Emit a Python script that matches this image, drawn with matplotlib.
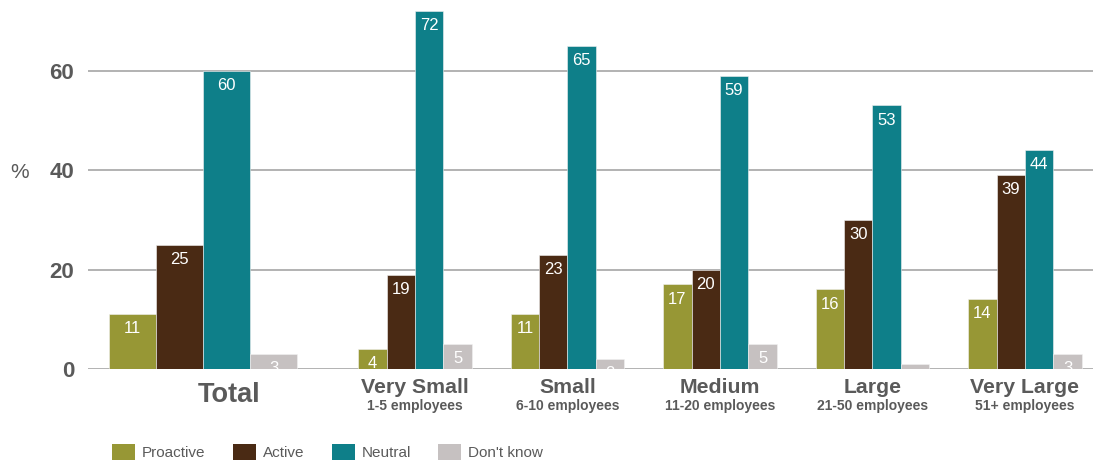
import matplotlib
matplotlib.use("Agg")
import matplotlib.pyplot as plt
from matplotlib.patches import Patch

plt.rcParams["font.family"] = ["Liberation Sans", "DejaVu Sans"]

# ==============================
# DATA
# ==============================

groups = ["Total", "Very Small", "Small", "Medium", "Large", "Very Large"]
subtitles = ["", "1-5 employees", "6-10 employees", "11-20 employees",
             "21-50 employees", "51+ employees"]
series = ["Proactive", "Active", "Neutral", "Don't know"]

proactive = [11, 4, 11, 17, 16, 14]
active = [25, 19, 23, 20, 30, 39]
neutral = [60, 72, 65, 59, 53, 44]
dont_know = [3, 5, 2, 5, 1, 3]

values = [proactive, active, neutral, dont_know]
colors = ["#979735", "#4a2a14", "#0e7f89", "#c6c1c1"]
text_grey = "#5a5a5a"

# group centres: "Total" stands apart from the size bands
centres = [0.0] + [1.39 + i for i in range(len(groups) - 1)]
widths = [0.308] + [0.186] * (len(groups) - 1)

# ==============================
# PLOT
# ==============================

W, H = 1093, 461
fig = plt.figure(figsize=(W / 100, H / 100), dpi=100)
ax_left, ax_bottom = 88, 369
ax = fig.add_axes([ax_left / W, (H - ax_bottom) / H, (W - ax_left) / W, ax_bottom / H])

ax.set_ylim(0, 74.2)
ax.set_xlim(-0.754, 5.836)

for s, (vals, col) in enumerate(zip(values, colors)):
    for g in range(len(groups)):
        w = widths[g]
        x = centres[g] + (s - 1.5) * w
        ax.bar(x, vals[g], width=w, color=col, edgecolor="#f2f2f2",
               linewidth=0.4, zorder=3)
        ax.annotate(str(vals[g]), (x, vals[g]), xytext=(0, -10.5),
                    textcoords="offset points", ha="center", va="center",
                    color="white", fontsize=12, zorder=4,
                    annotation_clip=True, clip_on=True)

# gridlines
ax.set_yticks([0, 20, 40, 60])
ax.yaxis.grid(True, color="#a5a5a5", linewidth=1.2, zorder=1)
ax.tick_params(axis="y", length=0, pad=10, labelsize=16, labelcolor=text_grey)
for lbl in ax.get_yticklabels():
    lbl.set_fontweight("bold")
ax.set_xticks([])
for sp in ax.spines.values():
    sp.set_visible(False)

fig.text(20 / W, 1 - 173 / H, "%", fontsize=15, color=text_grey,
         ha="center", va="center")

# category labels
xaxis_tr = ax.get_xaxis_transform()
for g, name in enumerate(groups):
    if g == 0:
        ax.text(centres[g] + 0.17, (ax_bottom - 395) / ax_bottom, name,
                transform=xaxis_tr, ha="center", va="center", fontsize=19.5,
                fontweight="bold", color=text_grey, clip_on=False)
    else:
        ax.text(centres[g], (ax_bottom - 387) / ax_bottom, name, transform=xaxis_tr,
                ha="center", va="center", fontsize=15.3, fontweight="bold",
                color=text_grey, clip_on=False)
        ax.text(centres[g], (ax_bottom - 406) / ax_bottom, subtitles[g],
                transform=xaxis_tr, ha="center", va="center", fontsize=10,
                fontweight="bold", color=text_grey, clip_on=False)

# legend
handles = [Patch(facecolor=c, edgecolor="none", label=n) for c, n in zip(colors, series)]
fig.legend(handles=handles, loc="center left", bbox_to_anchor=(112 / W, 1 - 452 / H),
           ncol=4, frameon=False, fontsize=11, labelcolor=text_grey,
           handlelength=1.5, handleheight=1.3, handletextpad=0.45,
           columnspacing=1.8, borderpad=0, borderaxespad=0)

fig.savefig("out.png", dpi=100)
